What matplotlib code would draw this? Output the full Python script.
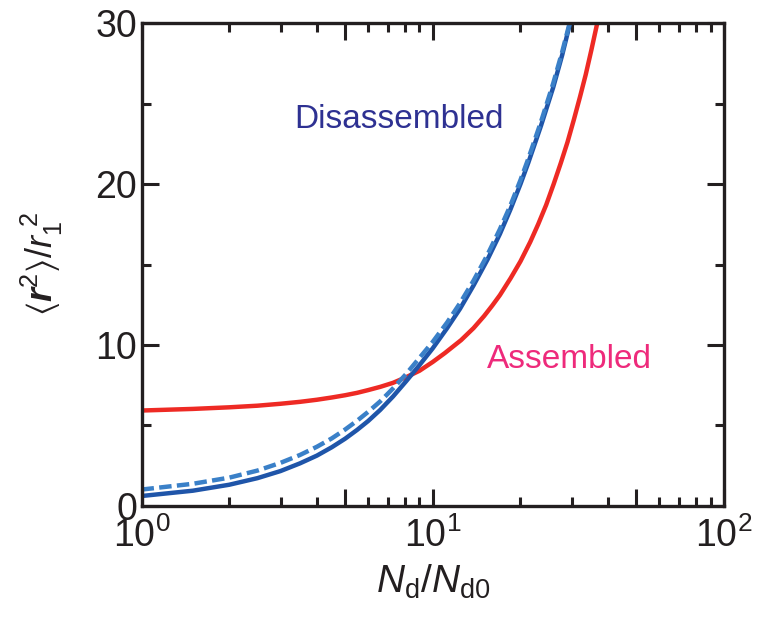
import numpy as np
import matplotlib
matplotlib.use("Agg")
import matplotlib.pyplot as plt
from matplotlib.ticker import FixedLocator, FixedFormatter, NullFormatter

plt.rcParams['font.family'] = ['Liberation Sans', 'DejaVu Sans']
plt.rcParams['mathtext.fontset'] = 'custom'
plt.rcParams['mathtext.rm'] = 'Liberation Sans'
plt.rcParams['mathtext.it'] = 'Liberation Sans:italic'
plt.rcParams['mathtext.bf'] = 'Liberation Sans:bold'
plt.rcParams['mathtext.bfit'] = 'Liberation Sans:bold:italic'
plt.rcParams['mathtext.default'] = 'regular'

# values
x_dis = [1, 1.5, 2, 2.5, 3, 3.5, 4, 4.5, 5, 5.5, 6, 6.6, 7.3, 8.1, 9, 10, 11.2, 12.4,
         13.8, 15.4, 17, 18.5, 20, 21.3, 23.5, 25.9, 27.8, 29.6]
y_dis = [0.62, 0.95, 1.32, 1.73, 2.17, 2.65, 3.13, 3.65, 4.18, 4.73, 5.28, 5.97, 6.8, 7.75, 8.75, 9.8,
         11.05, 12.25, 13.7, 15.3, 16.9, 18.45, 20.0, 21.35, 23.6, 26.0, 28.0, 30.0]

x_dis2 = [1, 1.5, 2, 2.5, 3, 3.5, 4, 4.5, 5, 5.5, 6, 6.6, 7.3, 8.1, 9, 10, 11.2, 12.4,
          13.8, 15.4, 17, 18.5, 20, 21.3, 23.5, 25.9, 27.8, 29.5]
y_dis2 = [1.02, 1.38, 1.76, 2.2, 2.68, 3.17, 3.68, 4.2, 4.75, 5.3, 5.85, 6.5, 7.3, 8.2, 9.2, 10.2,
          11.4, 12.6, 14.0, 15.6, 17.2, 18.7, 20.25, 21.6, 23.85, 26.25, 28.2, 30.0]

x_asm = [1, 1.5, 2, 2.5, 3, 3.5, 4, 4.5, 5, 5.5, 6, 6.6, 7.3, 8.1, 9, 10, 11, 12.5, 13.8, 15,
         16, 17, 18.5, 20, 21.6, 23, 24.5, 26, 27.5, 29, 30.5, 32, 33.5, 35, 36.7]
y_asm = [5.93, 6.03, 6.13, 6.23, 6.35, 6.47, 6.6, 6.74, 6.88, 7.03, 7.2, 7.4, 7.65, 8.0, 8.4, 8.95,
         9.5, 10.3, 11.05, 11.8, 12.45, 13.1, 14.15, 15.2, 16.4, 17.5, 18.7, 20.0, 21.3, 22.6,
         24.0, 25.4, 26.8, 28.3, 30.0]

fig = plt.figure(figsize=(7.63, 6.22), dpi=100)
ax = fig.add_axes([0.1855, 0.1865, 0.7635, 0.7765])

ax.plot(x_asm, y_asm, color='#EE2A24', lw=3.2, solid_capstyle='butt', solid_joinstyle='round')
ax.plot(x_dis, y_dis, color='#1F55A9', lw=3.2, solid_capstyle='butt', solid_joinstyle='round')
ax.plot(x_dis2, y_dis2, color='#3A80C8', lw=3.2, dashes=(2.8, 1.2), dash_capstyle='butt')

ax.set_xscale('log')
ax.set_xlim(1, 100)
ax.set_ylim(0, 30)

ax.xaxis.set_major_locator(FixedLocator([1, 5, 10, 50, 100]))
ax.xaxis.set_major_formatter(FixedFormatter([r'$10^{0}$', '', r'$10^{1}$', '', r'$10^{2}$']))
ax.xaxis.set_minor_locator(FixedLocator([2, 3, 4, 6, 7, 8, 9, 20, 30, 40, 60, 70, 80, 90]))
ax.xaxis.set_minor_formatter(NullFormatter())
ax.set_yticks([0, 10, 20, 30])
ax.set_yticks([5, 15, 25], minor=True)

ax.tick_params(which='both', direction='in', top=True, right=True, width=2.2,
               color='#231F20', labelsize=27, labelcolor='#231F20')
ax.tick_params(which='major', length=12)
ax.tick_params(which='minor', length=6.5)
ax.tick_params(axis='y', pad=3)
ax.tick_params(axis='x', pad=8)
for s in ax.spines.values():
    s.set_linewidth(2.4)
    s.set_color('#231F20')

ax.set_xlabel(r'$\mathit{N}_{\mathrm{d}}/\mathit{N}_{\mathrm{d0}}$', fontsize=28,
              color='#231F20', labelpad=6)
ax.set_ylabel(r'$\langle \mathbfit{r}^{2}\rangle / \mathit{r}_{1}^{\ 2}$', fontsize=26,
              color='#231F20', labelpad=22)

ax.text(0.263, 0.80, 'Disassembled', transform=ax.transAxes, fontsize=24,
        color='#2E3192', va='center')
ax.text(0.593, 0.304, 'Assembled', transform=ax.transAxes, fontsize=24,
        color='#EE2A7B', va='center')

fig.savefig('out.png', dpi=100)
